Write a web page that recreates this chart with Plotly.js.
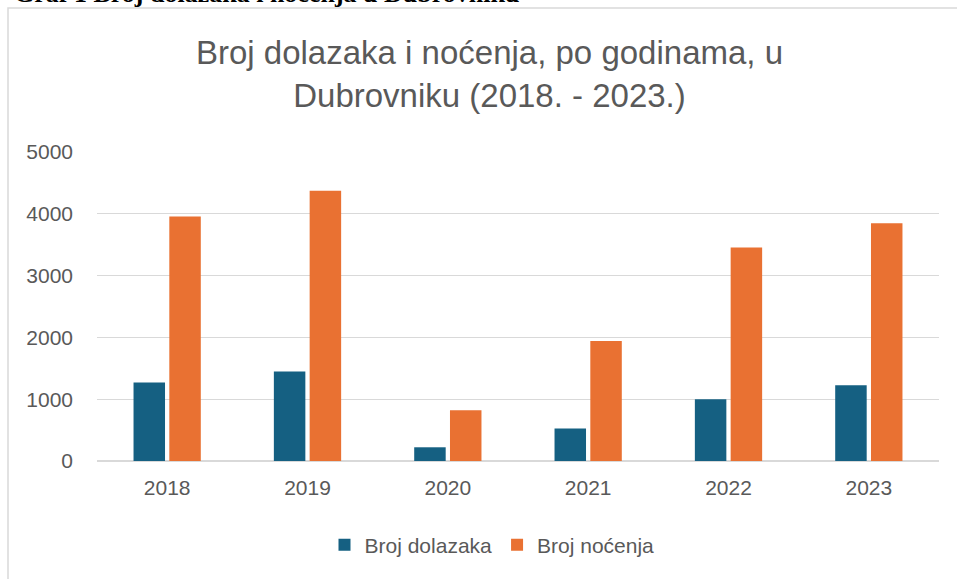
<!DOCTYPE html>
<html>
<head>
<meta charset="utf-8">
<script src="https://cdn.plot.ly/plotly-3.0.1.min.js"></script>
<style>
  html, body { margin: 0; padding: 0; background: #ffffff; }
  #chart { width: 957px; height: 579px; }
</style>
</head>
<body>
<div id="chart"></div>
<script>
// ---- data ----
const years = ['2018', '2019', '2020', '2021', '2022', '2023'];
const dolasci = [1270, 1447, 222, 524, 998, 1225];
const nocenja = [3955, 4375, 820, 1942, 3453, 3846];
const seriesNames = ['Broj dolazaka', 'Broj noćenja'];
const yTicks = [0, 1000, 2000, 3000, 4000, 5000];
const chartTitle = 'Broj dolazaka i noćenja, po godinama, u<br>Dubrovniku (2018. - 2023.)';
const caption = 'Graf 1 Broj dolazaka i noćenja u Dubrovniku';

// ---- layout geometry ----
const W = 957, H = 579;
const mL = 97, mR = 18, mT = 152, mB = 118;
const pw = W - mL - mR, ph = H - mT - mB;
const px2x = p => (p - mL) / pw;
const py2y = p => (H - mB - p) / ph;

const txt = '#595959';
const font = 'Liberation Sans, Arial, sans-serif';

const traces = [
  { type: 'bar', name: seriesNames[0], x: years, y: dolasci,
    marker: { color: '#156082', line: { width: 0 } } },
  { type: 'bar', name: seriesNames[1], x: years, y: nocenja,
    marker: { color: '#E97132', line: { width: 0 } } }
];

const layout = {
  width: W, height: H,
  margin: { l: mL, r: mR, t: mT, b: mB, pad: 0 },
  paper_bgcolor: '#ffffff', plot_bgcolor: '#ffffff',
  font: { family: font, color: txt, size: 21 },
  barmode: 'group', bargap: 0.49, bargroupgap: 0.12,
  title: {
    text: chartTitle,
    font: { family: font, size: 33, color: txt },
    xref: 'container', x: 489.5 / W, xanchor: 'center',
    yref: 'container', y: 1 - 64 / H, yanchor: 'middle'
  },
  xaxis: {
    type: 'category', showgrid: false, zeroline: false,
    showline: false, ticks: '', ticklabelstandoff: 12,
    tickfont: { family: font, size: 21, color: txt }
  },
  yaxis: {
    range: [0, 5000], tickvals: yTicks, ticktext: yTicks.map(String),
    showgrid: true, gridcolor: '#d9d9d9', gridwidth: 1.3,
    zeroline: true, zerolinecolor: '#d9d9d9', zerolinewidth: 1.5,
    showline: false, ticks: '', ticklabelstandoff: 23,
    tickfont: { family: font, size: 21, color: txt }
  },
  showlegend: true,
  legend: {
    orientation: 'h', xref: 'container', yref: 'container',
    x: 492 / W, xanchor: 'center', y: 1 - 545 / H, yanchor: 'middle',
    font: { family: font, size: 21, color: txt },
    itemwidth: 30, tracegroupgap: 0, bgcolor: 'rgba(0,0,0,0)'
  },
  shapes: [
    { type: 'rect', xref: 'paper', yref: 'paper',
      x0: px2x(8), x1: px2x(W + 20), y0: py2y(H + 20), y1: py2y(8),
      line: { color: '#d9d9d9', width: 1.5 }, fillcolor: 'rgba(0,0,0,0)', layer: 'below' }
  ],
  annotations: [
    { text: '<b>' + caption + '</b>', showarrow: false,
      xref: 'paper', yref: 'paper', x: px2x(12), xanchor: 'left',
      y: py2y(10), yanchor: 'bottom',
      font: { family: 'Liberation Serif, Times New Roman, serif', size: 26, color: '#000000' } }
  ]
};

Plotly.newPlot('chart', traces, layout, { displayModeBar: false, staticPlot: true });
</script>
</body>
</html>
